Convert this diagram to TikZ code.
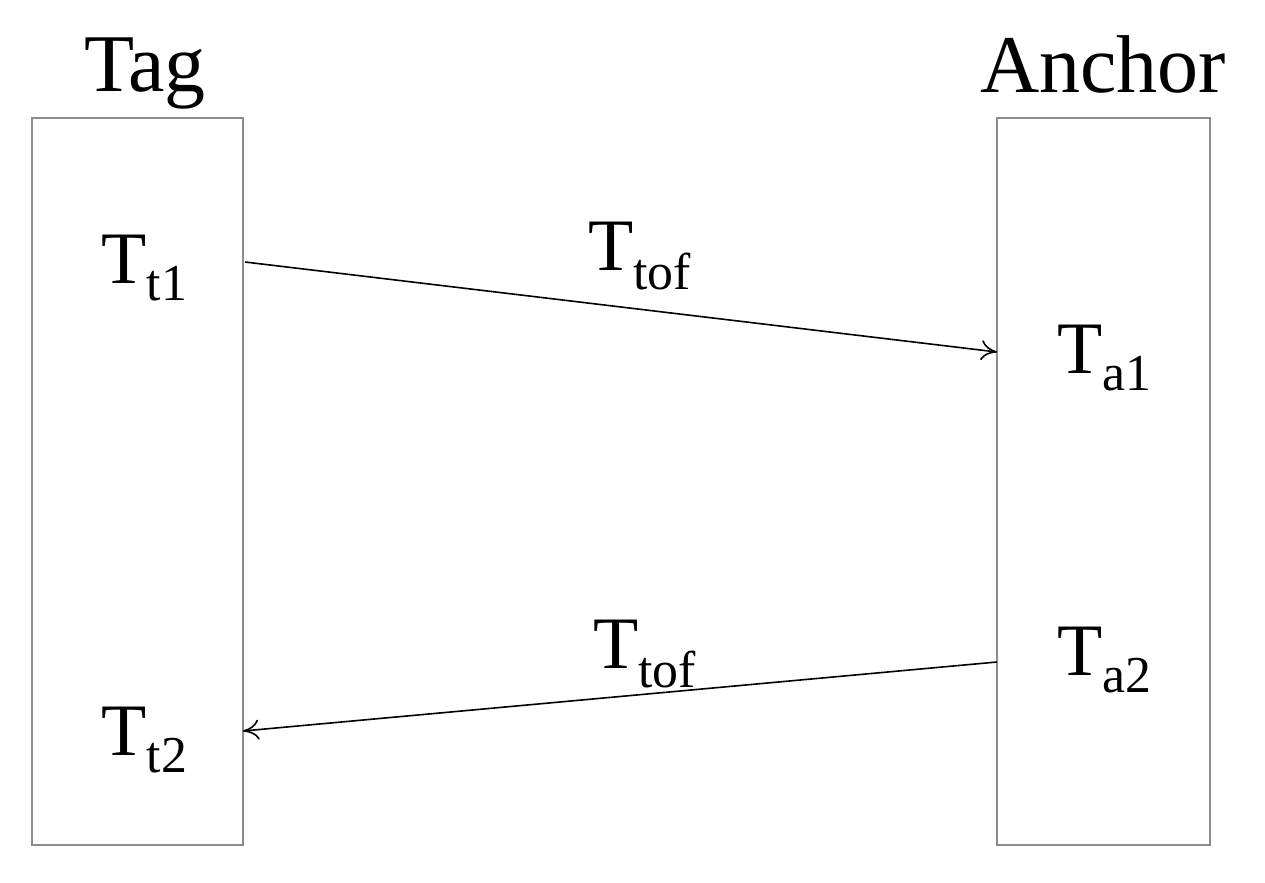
\documentclass[tikz,border=0pt]{standalone}
\usepackage{fontspec}
\setmainfont{Liberation Serif}
\usetikzlibrary{arrows.meta}
\begin{document}
\begin{tikzpicture}[x=0.5pt,y=-0.5pt,
  box/.style={draw=black!45,line width=1pt},
  big/.style={font=\fontsize{41}{48}\selectfont,inner sep=0pt,anchor=base},
  lab/.style={font=\fontsize{37}{44}\selectfont,inner sep=0pt},
  msg/.style={draw=black,line width=0.8pt,-{To[length=8pt,width=10pt]}}]
\useasboundingbox (0,0) rectangle (1265,883);
\draw[box] (32,118) rectangle (243,845);
\draw[box] (997,118) rectangle (1210,845);
\node[big] (tag) at (145,92) {Tag};
\node[big] (anc) at (1103,93) {Anchor};
\node[lab] (tt1) at (145,268) {T\textsubscript{t1}};
\node[lab] (tt2) at (145,740) {T\textsubscript{t2}};
\node[lab] (ta1) at (1105,358) {T\textsubscript{a1}};
\node[lab] (ta2) at (1105,660) {T\textsubscript{a2}};
\coordinate (s1) at (245,262);
\coordinate (e1) at (997,352);
\coordinate (s2) at (997,662);
\coordinate (e2) at (243,731);
\draw[msg] (s1) -- (e1);
\draw[msg] (s2) -- (e2);
\node[lab] (l1) at (640,256) {T\textsubscript{tof}};
\node[lab] (l2) at (645,654) {T\textsubscript{tof}};
\end{tikzpicture}
\end{document}
